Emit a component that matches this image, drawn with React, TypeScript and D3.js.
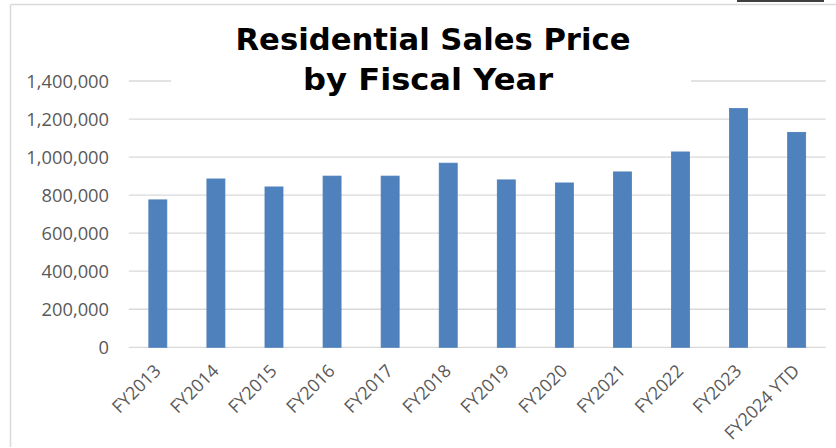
import React from "react";
import * as d3 from "d3";

const categories = ["FY2013", "FY2014", "FY2015", "FY2016", "FY2017", "FY2018", "FY2019", "FY2020", "FY2021", "FY2022", "FY2023", "FY2024 YTD"];
const prices = [775000, 885000, 843000, 900000, 900000, 968000, 880000, 864000, 922000, 1027000, 1255000, 1130000];
const yTicks = [0, 200000, 400000, 600000, 800000, 1000000, 1200000, 1400000];
const titleLines = ["Residential Sales Price", "by Fiscal Year"];

const W = 836;
const H = 448;

export default function App() {
  const x = d3.scaleBand<string>().domain(categories).range([128.8, 825.7]).paddingInner(0.69).paddingOuter(0.345);
  const y = d3.scaleLinear().domain([0, 1400000]).range([347.3, 81]);
  const fmt = d3.format(",");
  const labelFont = "'Open Sans', sans-serif";

  return (
    <svg width={W} height={H} style={{ position: "absolute", left: 0, top: 0, background: "#fff" }}>
      <rect x={0} y={0} width={W} height={H} fill="#fff" />
      {/* frame */}
      <line x1={10.5} y1={4.5} x2={W} y2={4.5} stroke="#d9d9d9" strokeWidth={1.5} />
      <line x1={10.5} y1={4.5} x2={10.5} y2={447} stroke="#d9d9d9" strokeWidth={1.5} />
      <line x1={737} y1={1} x2={824} y2={1} stroke="#000" strokeWidth={1.5} />
      {/* gridlines */}
      {yTicks.map((t) => (
        <line key={t} x1={128.8} x2={825.7} y1={y(t)} y2={y(t)} stroke="#d9d9d9" strokeWidth={1.3} />
      ))}
      {/* y labels */}
      {yTicks.map((t) => (
        <text key={"l" + t} x={109} y={y(t)} dy="0.36em" textAnchor="end" fontFamily={labelFont} fontSize={18.3} fill="#595959">
          {fmt(t)}
        </text>
      ))}
      {/* bars */}
      {categories.map((c, i) => (
        <rect key={c} x={x(c)} y={y(prices[i])} width={x.bandwidth()} height={y(0) - y(prices[i])} fill="#4f81bd" stroke="#4a7ebb" strokeWidth={0.8} />
      ))}
      {/* x labels */}
      {categories.map((c) => {
        const cx = (x(c) as number) + x.bandwidth() / 2 + 4;
        const cy = 372;
        return (
          <text key={"x" + c} x={cx} y={cy} transform={`rotate(-45, ${cx}, ${cy})`} textAnchor="end" fontFamily={labelFont} fontSize={17.8} fill="#595959">
            {c}
          </text>
        );
      })}
      {/* title */}
      <rect x={171} y={8} width={520} height={92} fill="#fff" />
      <text x={433} y={50.3} textAnchor="middle" fontFamily="'DejaVu Sans', sans-serif" fontWeight="bold" fontSize={30} fill="#000" textLength={395} lengthAdjust="spacingAndGlyphs">
        {titleLines[0]}
      </text>
      <text x={428} y={89.5} textAnchor="middle" fontFamily="'DejaVu Sans', sans-serif" fontWeight="bold" fontSize={30} fill="#000" textLength={250} lengthAdjust="spacingAndGlyphs">
        {titleLines[1]}
      </text>
    </svg>
  );
}
